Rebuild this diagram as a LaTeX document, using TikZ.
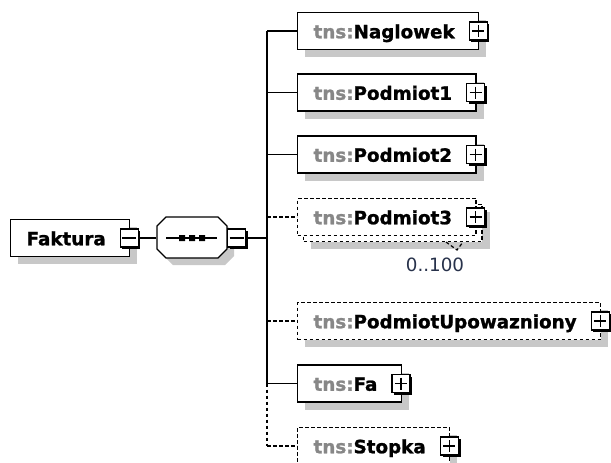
\documentclass[tikz,border=0pt]{standalone}
\usepackage{fontspec}
\setmainfont{DejaVu Sans}[BoldFeatures={FakeBold=1.2}]
\usetikzlibrary{shadows,calc}
\definecolor{shadowc}{RGB}{200,200,200}
\definecolor{tnsc}{RGB}{135,135,135}
\definecolor{occc}{RGB}{40,50,75}
\newcommand{\tns}{{\color{tnsc}tns:}}
\begin{document}
\begin{tikzpicture}[x=1pt,y=-1pt,line width=1.2pt,
  elem/.style={draw, fill=white, anchor=west, inner xsep=16pt, inner ysep=0pt,
    minimum height=37pt, text height=16.5pt, text depth=2pt,
    font=\fontsize{18.3pt}{21pt}\selectfont\bfseries},
  shad/.style={drop shadow={shadow xshift=7.5pt, shadow yshift=-7.5pt, fill=shadowc, opacity=1}},
  opt/.style={dash pattern=on 3.5pt off 2.5pt},
  pmbox/.style={draw, fill=white, minimum size=18pt, inner sep=0pt, solid, line width=1.2pt,
    drop shadow={shadow xshift=2.2pt, shadow yshift=-2.2pt, fill=black, opacity=1}},
  plusbox/.style={pmbox, path picture={
    \draw[line width=1.4pt] ([yshift=-3pt]path picture bounding box.north) -- ([yshift=3pt]path picture bounding box.south)
      ([xshift=3pt]path picture bounding box.west) -- ([xshift=-3pt]path picture bounding box.east);}},
  minusbox/.style={pmbox, path picture={
    \draw[line width=1.4pt] ([xshift=2pt]path picture bounding box.west) -- ([xshift=-2pt]path picture bounding box.east);}},
  occ/.style={font=\fontsize{18.3pt}{21pt}\selectfont, text=occc, inner sep=0pt}
]
\useasboundingbox (0,0) rectangle (611,463);

% root element
\node[elem, shad] (fak) at (10,238) {Faktura\kern8pt};
\node[minusbox] (fakm) at ([xshift=-1pt]fak.east) {};

% sequence compositor
\fill[shadowc, shift={(7,7)}] (157,226) -- (166,217) -- (218,217) -- (227,226) -- (227,249) -- (218,258) -- (166,258) -- (157,249) -- cycle;
\draw[fill=white] (157,226) -- (166,217) -- (218,217) -- (227,226) -- (227,249) -- (218,258) -- (166,258) -- (157,249) -- cycle;
\node[minimum width=70pt, minimum height=41pt, inner sep=0pt] (seq) at (192,237.5) {};
\draw (166,238) -- (217,238);
\fill (179,235) rectangle (185,241) (189,235) rectangle (195,241) (199,235) rectangle (205,241);
\node[minusbox] (seqm) at (236.5,238) {};
\coordinate (bar) at (267,238);

\draw (fakm.east) -- (fakm.east -| seq.west);
\draw (seqm.east) -- (bar);

% children
\node[elem, shad] (n1) at (297,31) {\tns Naglowek\kern8pt};
\node[plusbox] (p1) at ([xshift=-1pt]n1.east) {};
\node[elem, shad] (n2) at (297,92.5) {\tns Podmiot1\kern8pt};
\node[plusbox] (p2) at ([xshift=-1pt]n2.east) {};
\node[elem, shad] (n3) at (297,154.5) {\tns Podmiot2\kern8pt};
\node[plusbox] (p3) at ([xshift=-1pt]n3.east) {};
\node[elem, shad, opt] (n4b) at (303,223) {\phantom{\tns Podmiot3}\kern8pt};
\node[elem, opt] (n4) at (297,217) {\tns Podmiot3\kern8pt};
\node[plusbox] (p4) at ([xshift=-1pt]n4.east) {};
\draw[opt] (446,242) -- (457,250) -- (463,242);
\node[occ] (o4) at (435,265) {0..100};
\node[elem, shad, opt] (n5) at (297,321) {\tns PodmiotUpowazniony\kern8pt};
\node[plusbox] (p5) at ([xshift=-1pt]n5.east) {};
\node[elem, shad] (n6) at (297,383.5) {\tns Fa\kern8pt};
\node[plusbox] (p6) at ([xshift=-1pt]n6.east) {};
\node[elem, shad, opt] (n7) at (297,446) {\tns Stopka\kern8pt};
\node[plusbox] (p7) at ([xshift=-1pt]n7.east) {};

% connectors
\draw (bar |- n1.west) -- (bar |- n6.west);
\draw[opt] (bar |- n6.west) -- (bar |- n7.west);
\draw (bar |- n1.west) -- (n1.west);
\draw (bar |- n2.west) -- (n2.west);
\draw (bar |- n3.west) -- (n3.west);
\draw[opt] (bar |- n4.west) -- (n4.west);
\draw[opt] (bar |- n5.west) -- (n5.west);
\draw (bar |- n6.west) -- (n6.west);
\draw[opt] (bar |- n7.west) -- (n7.west);
\end{tikzpicture}
\end{document}
